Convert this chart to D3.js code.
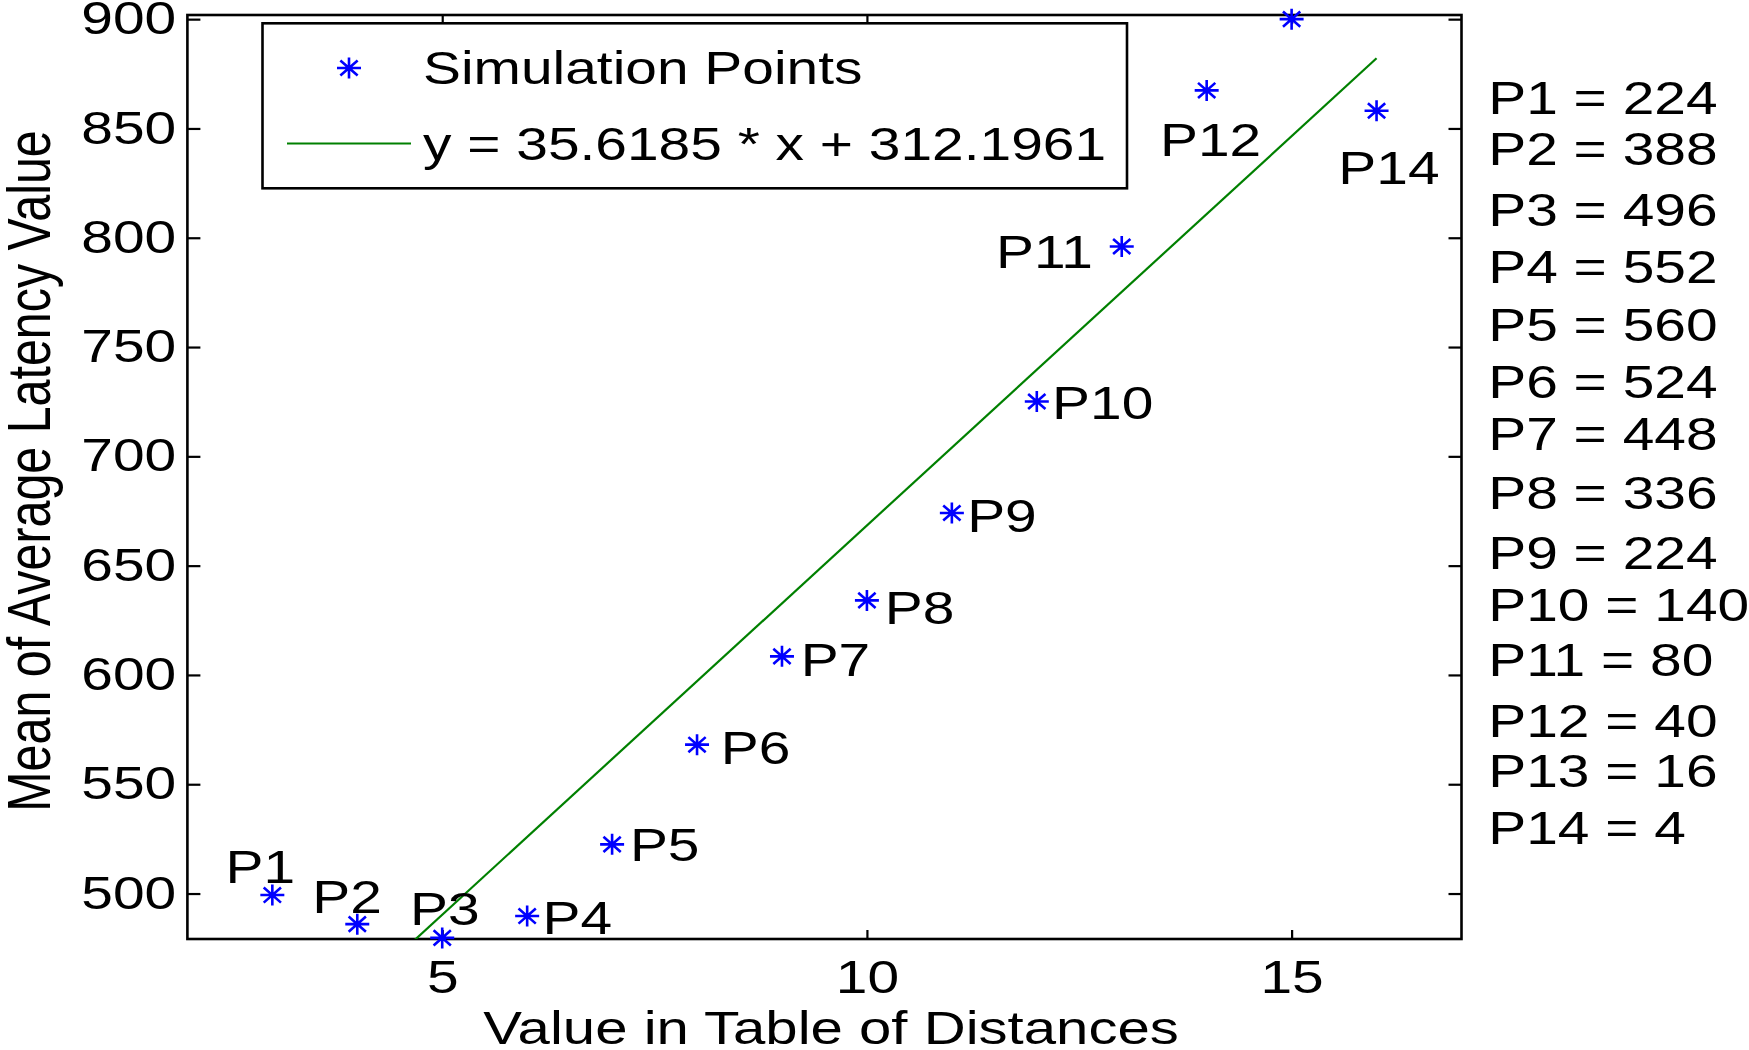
<!DOCTYPE html>
<html>
<head>
<meta charset="utf-8">
<script src="https://cdn.jsdelivr.net/npm/d3@7"></script>
<style>
  html, body { margin: 0; padding: 0; background: #ffffff; }
  svg { display: block; }
  text { font-family: "Liberation Sans", Arial, Helvetica, sans-serif; fill: #000; }
</style>
</head>
<body>
<svg id="chart" width="1749" height="1050"></svg>
<script>
// ---------------- data ----------------
const pointNames = ["P1","P2","P3","P4","P5","P6","P7","P8","P9","P10","P11","P12","P13","P14"];
const distances  = [3, 4, 5, 6, 7, 8, 9, 10, 11, 12, 13, 14, 15, 16];
const latency    = [499.3, 486.0, 479.7, 489.7, 522.5, 568.1, 608.5, 634.1, 674.1, 725.1, 796.0, 867.4, 900.0, 858.1];

// point label anchors (data coordinates, left / baseline), like MATLAB text(x, y, str)
const labelNames = ["P1","P2","P3","P4","P5","P6","P7","P8","P9","P10","P11","P12","P14"];
const labelX     = [2.45, 3.47, 4.62, 6.18, 7.21, 8.28, 9.22, 10.21, 11.18, 12.18, 11.52, 13.45, 15.55];
const labelY     = [505.0, 491.1, 485.7, 481.5, 514.7, 559.4, 599.3, 623.4, 665.6, 717.1, 786.1, 837.2, 824.7];

// annotation column on the right: P_i = count
const countValues = [224, 388, 496, 552, 560, 524, 448, 336, 224, 140, 80, 40, 16, 4];
const countY      = [856.7, 833.1, 805.6, 779.3, 752.6, 726.8, 702.7, 676.0, 648.6, 624.9, 599.3, 571.6, 548.7, 522.6];
const countX      = 17.315;

// linear fit
const fitSlope = 35.6185;
const fitIntercept = 312.1961;
const fitRange = [3, 16];

// axes
const xDomain = [2, 17];
const yDomain = [479.2, 901.9];
const xTicks = [5, 10, 15];
const yTicks = [500, 550, 600, 650, 700, 750, 800, 850, 900];

const legendLabels = ["Simulation Points", "y = 35.6185 * x + 312.1961"];
const xLabel = "Value in Table of Distances";
const yLabel = "Mean of Average Latency Value";

// ---------------- layout ----------------
const L = 187.4, R = 1461.5, T = 15, B = 939;
const FS = 45.5, SX = 1.25;     // font size and horizontal stretch of the original
const svg = d3.select("#chart");

const x = d3.scaleLinear().domain(xDomain).range([L, R]);
const y = d3.scaleLinear().domain(yDomain).range([B, T]);

function hText(parent, px, py, str, anchor, size) {
  return parent.append("text")
    .attr("transform", `translate(${px},${py}) scale(${SX},1)`)
    .attr("text-anchor", anchor || "start")
    .attr("font-size", size || FS)
    .text(str);
}

// clip for the fit line
svg.append("defs").append("clipPath").attr("id", "plotClip")
  .append("rect").attr("x", L).attr("y", T).attr("width", R - L).attr("height", B - T);

// axes with inward ticks on all four sides
const axStyle = g => {
  g.select(".domain").remove();
  g.selectAll(".tick line").attr("stroke", "#000").attr("stroke-width", 2.2);
  g.selectAll(".tick text")
    .attr("font-size", FS)
    .attr("font-family", "'Liberation Sans', Arial, Helvetica, sans-serif")
    .attr("fill", "#000")
    .attr("transform", `scale(${SX},1)`);
};

svg.append("g").attr("transform", `translate(0,${B})`)
  .call(d3.axisBottom(x).tickValues(xTicks).tickSize(-9).tickSizeOuter(0).tickPadding(22).tickFormat(d3.format("d")))
  .call(axStyle);
svg.append("g").attr("transform", `translate(0,${T})`)
  .call(d3.axisTop(x).tickValues(xTicks).tickSize(-9).tickSizeOuter(0).tickFormat(""))
  .call(axStyle);
svg.append("g").attr("transform", `translate(${L},0)`)
  .call(d3.axisLeft(y).tickValues(yTicks).tickSize(-13).tickSizeOuter(0).tickPadding(9).tickFormat(d3.format("d")))
  .call(axStyle);
svg.append("g").attr("transform", `translate(${R},0)`)
  .call(d3.axisRight(y).tickValues(yTicks).tickSize(-13).tickSizeOuter(0).tickFormat(""))
  .call(axStyle);

// frame
svg.append("rect").attr("x", L).attr("y", T).attr("width", R - L).attr("height", B - T)
  .attr("fill", "none").attr("stroke", "#000").attr("stroke-width", 2.6);

// fit line
const fitLine = d3.line().x(d => x(d)).y(d => y(fitSlope * d + fitIntercept));
svg.append("path").datum(fitRange)
  .attr("clip-path", "url(#plotClip)")
  .attr("d", fitLine)
  .attr("fill", "none").attr("stroke", "#008000").attr("stroke-width", 2.2);

// asterisk marker
const SA = 12, SB = 10.5, SD = 0.72;
const starPath = `M${-SA},0L${SA},0M0,${-SB}L0,${SB}M${-SA*SD},${-SB*SD}L${SA*SD},${SB*SD}M${-SA*SD},${SB*SD}L${SA*SD},${-SB*SD}`;

svg.append("g").selectAll("path").data(distances.map((d, i) => ({ d, v: latency[i] })))
  .join("path")
  .attr("transform", p => `translate(${x(p.d)},${y(p.v)})`)
  .attr("d", starPath)
  .attr("fill", "none").attr("stroke", "#0000ff").attr("stroke-width", 2.6);

// point labels
const lg = svg.append("g");
labelNames.forEach((n, i) => hText(lg, x(labelX[i]), y(labelY[i]), n));

// right-hand annotations
const rg = svg.append("g");
pointNames.forEach((n, i) => hText(rg, x(countX), y(countY[i]), `${n} = ${countValues[i]}`));

// legend
const leg = svg.append("g");
leg.append("rect").attr("x", 262.5).attr("y", 23.3).attr("width", 864.5).attr("height", 165)
  .attr("fill", "#fff").attr("stroke", "#000").attr("stroke-width", 2.6);
leg.append("path").attr("transform", "translate(349,68)").attr("d", starPath)
  .attr("fill", "none").attr("stroke", "#0000ff").attr("stroke-width", 2.6);
leg.append("line").attr("x1", 287).attr("x2", 411).attr("y1", 143.5).attr("y2", 143.5)
  .attr("stroke", "#008000").attr("stroke-width", 2.2);
hText(leg, 423, 84, legendLabels[0]);
hText(leg, 423, 160, legendLabels[1]);

// axis labels
hText(svg, 831, 1044, xLabel, "middle", 46.5);
svg.append("text")
  .attr("transform", "translate(50,471) rotate(-90) scale(1,1.25)")
  .attr("text-anchor", "middle")
  .attr("font-size", 48.4)
  .text(yLabel);
</script>
</body>
</html>
